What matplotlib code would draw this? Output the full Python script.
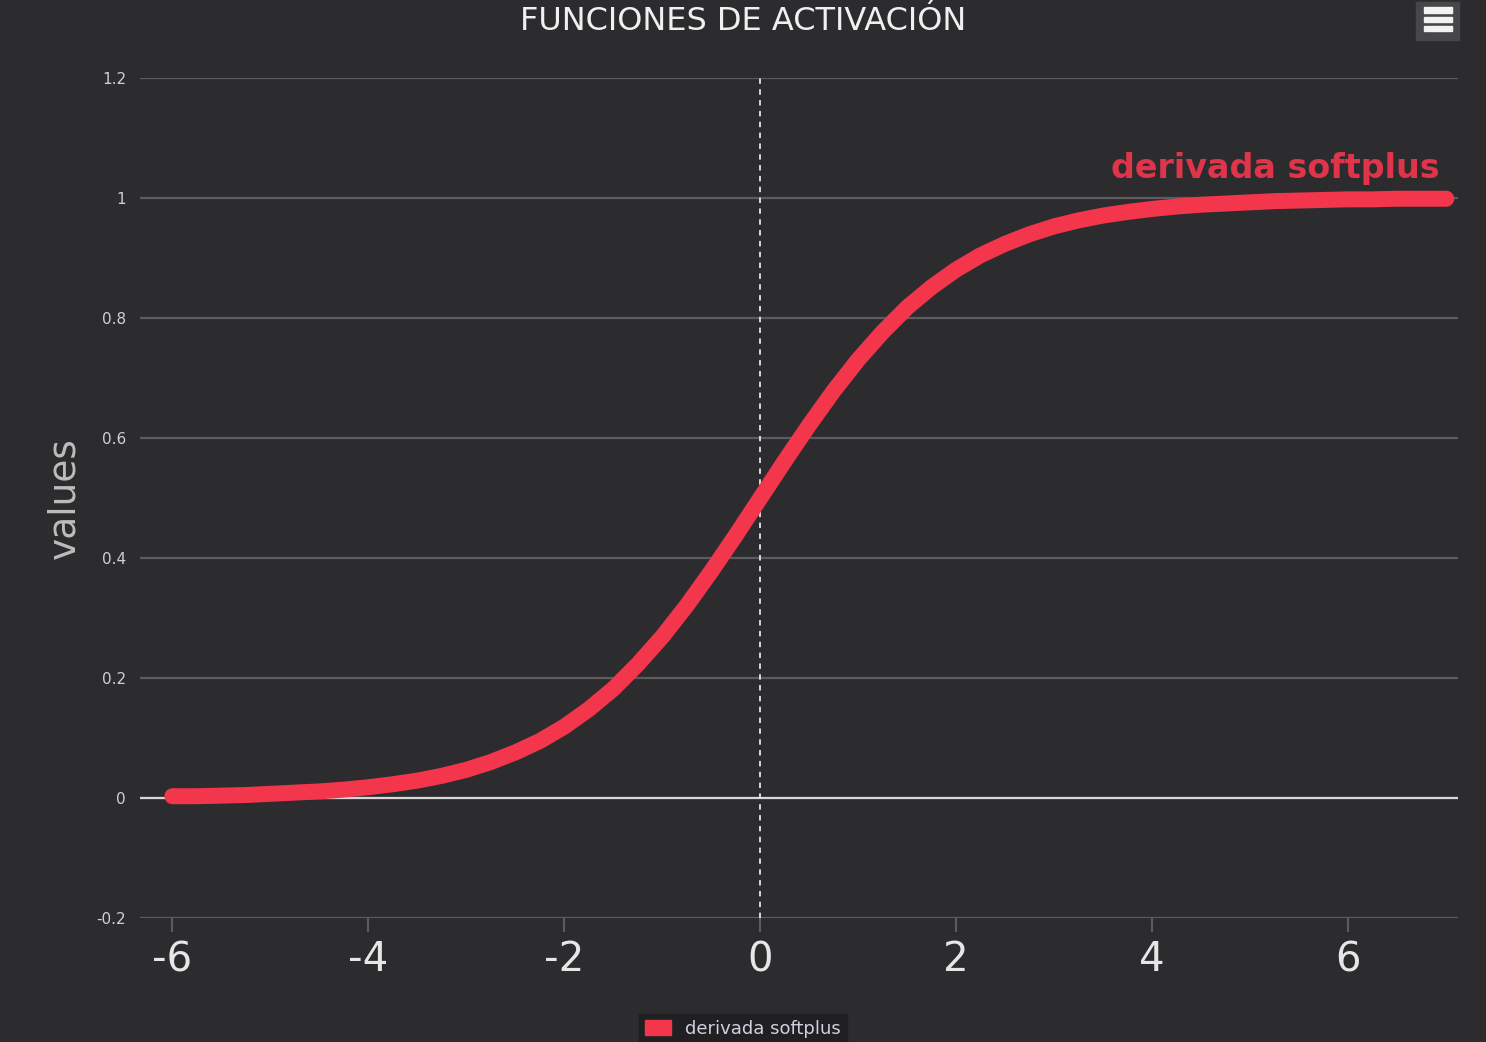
import numpy as np
import matplotlib
matplotlib.use("Agg")
import matplotlib.pyplot as plt
from matplotlib.patches import Rectangle, Patch

plt.rcParams['font.family'] = ['DejaVu Sans']

# derivative of softplus
x_vals = np.linspace(-6, 7, 53)
y_vals = [0.003, 0.003, 0.004, 0.005, 0.007, 0.009, 0.011, 0.014, 0.018,
          0.023, 0.029, 0.037, 0.047, 0.060, 0.076, 0.095, 0.119, 0.148,
          0.182, 0.223, 0.269, 0.321, 0.378, 0.438, 0.500, 0.562, 0.622,
          0.679, 0.731, 0.777, 0.818, 0.852, 0.881, 0.905, 0.924, 0.940,
          0.953, 0.963, 0.971, 0.977, 0.982, 0.986, 0.989, 0.991, 0.993,
          0.995, 0.996, 0.997, 0.998, 0.998, 0.999, 0.999, 0.999]
series_name = "derivada softplus"
xticks = [-6, -4, -2, 0, 2, 4, 6]
yticks = [-0.2, 0, 0.2, 0.4, 0.6, 0.8, 1, 1.2]
ytick_labels = ["-0.2", "0", "0.2", "0.4", "0.6", "0.8", "1", "1.2"]

bg = '#2c2c2e'
red = '#f4364c'

fig = plt.figure(figsize=(14.86, 10.42), dpi=100, facecolor=bg)
ax = fig.add_axes([0.0942, 0.119, 0.887, 0.806], facecolor=bg)

for y in yticks:
    ax.axhline(y, color='#5c5c5e', lw=1.6, zorder=1)
ax.axhline(0, color='#d8d8d8', lw=1.6, zorder=2)
ax.axvline(0, color='#e6e6e6', lw=1.3, ls=(0, (3, 3)), zorder=2)

ax.plot(x_vals, y_vals, color=red, lw=11.5, solid_capstyle='round', zorder=3)

ax.text(6.93, 1.05, series_name, color='#e0344a', fontsize=24,
        ha='right', va='center', fontweight='bold')

ax.set_xlim(-6.33, 7.12)
ax.set_ylim(-0.2, 1.2)
ax.set_xticks(xticks)
ax.set_xticklabels([str(t) if t >= 0 else '-' + str(-t) for t in xticks])
ax.set_yticks(yticks)
ax.set_yticklabels(ytick_labels)
for s in ax.spines.values():
    s.set_visible(False)
ax.tick_params(axis='x', colors='#5c5c5e', length=10, width=1.5,
               labelcolor='#e6e6e6', labelsize=29, pad=6)
ax.tick_params(axis='y', length=0, labelcolor='#d0d0d0', labelsize=11, pad=10)

ax.set_ylabel("values", color='#bdbdbd', fontsize=27, labelpad=10)

fig.text(0.5, 0.979, "FUNCIONES DE ACTIVACIÓN", color='#f0f0f0', fontsize=23,
         ha='center', va='center')

# menu button in the corner
fig.add_artist(Rectangle((0.953, 0.962), 0.029, 0.036, transform=fig.transFigure,
                         color='#47474a', zorder=5))
for yy in [0.970, 0.979, 0.988]:
    fig.add_artist(Rectangle((0.958, yy), 0.019, 0.005, transform=fig.transFigure,
                             color='#f2f2f2', zorder=6))

leg = fig.legend(handles=[Patch(color=red, label=series_name)],
                 loc='upper center', bbox_to_anchor=(0.5, 0.036),
                 frameon=True, fontsize=13, handlelength=1.4, handleheight=0.9,
                 borderpad=0.35, fancybox=False)
leg.get_frame().set_facecolor('#1e1e20')
leg.get_frame().set_edgecolor('#1e1e20')
for t in leg.get_texts():
    t.set_color('#d0d0e0')

fig.savefig("out.png", dpi=100, facecolor=bg)
